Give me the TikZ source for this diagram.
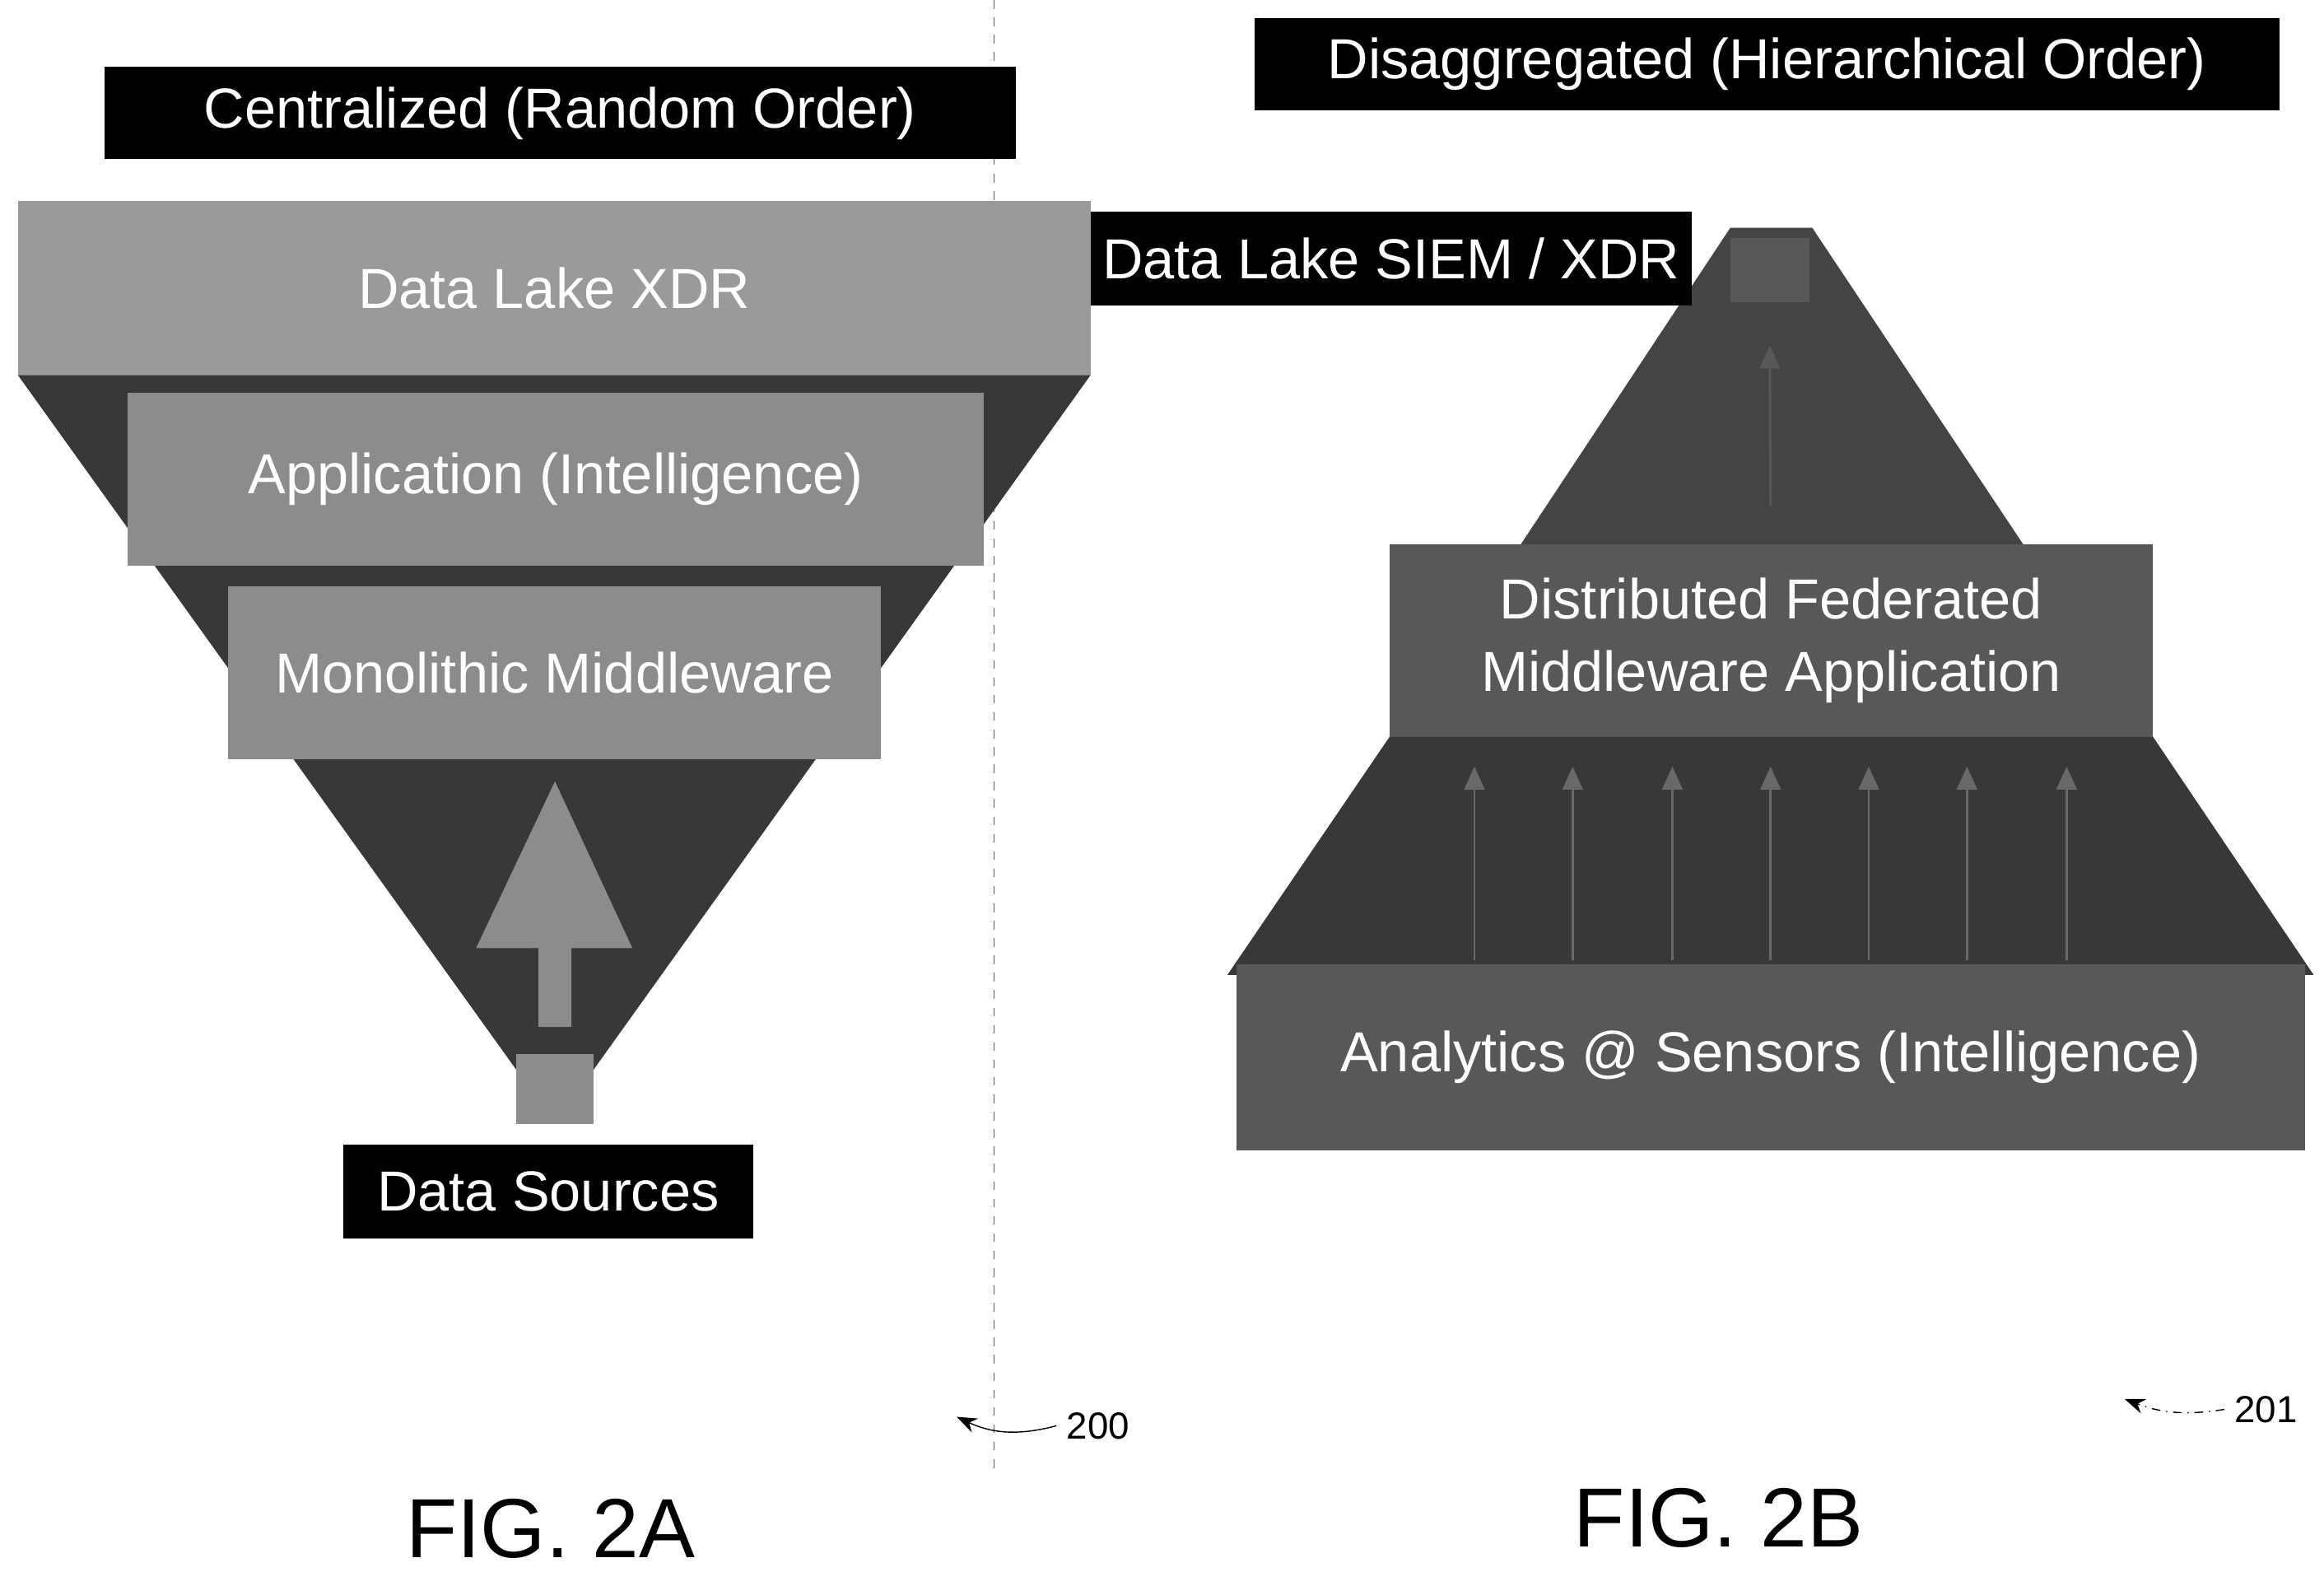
\documentclass[tikz,border=0pt]{standalone}
\usepackage{fontspec}
\setmainfont{Liberation Sans}
\usetikzlibrary{arrows.meta}
\definecolor{lightbox}{HTML}{9A9A9A}
\definecolor{midbox}{HTML}{8C8C8C}
\definecolor{darkfill}{HTML}{383838}
\definecolor{topfill}{HTML}{444444}
\definecolor{rbox}{HTML}{585858}
\tikzset{
	label/.style={fill=black, text=white, font=\fontsize{19.5}{23}\selectfont, inner sep=0pt},
	layer/.style={draw=none, text=white, font=\fontsize{19.5}{23}\selectfont, align=center},
	fig/.style={font=\fontsize{29}{32}\selectfont},
	num/.style={font=\fontsize{13}{15}\selectfont}
}
\begin{document}
\begin{tikzpicture}[x=0.01807cm, y=-0.01807cm]
	\useasboundingbox (0,0) rectangle (1562,1056);

	% divider
	\draw[dashed, gray!70!black] (668,0) -- (668,990);

	% titles
	\node[label, minimum width=613*0.01807cm, minimum height=62*0.01807cm] (tA) at (376.5,76) {Centralized (Random Order)};
	\node[label, minimum width=689*0.01807cm, minimum height=62*0.01807cm] (tB) at (1187.5,43) {Disaggregated (Hierarchical Order)};

	% left funnel
	\fill[darkfill] (12,252) -- (733,252) -- (373,755) -- cycle;
	\node[layer, fill=lightbox, minimum width=721*0.01807cm, minimum height=117*0.01807cm] (lake) at (372.5,193.5) {Data Lake XDR};
	\node[layer, fill=midbox, minimum width=575*0.01807cm, minimum height=116*0.01807cm] (app) at (373.5,322) {Application (Intelligence)};
	\node[layer, fill=midbox, minimum width=439*0.01807cm, minimum height=116*0.01807cm] (mono) at (372.5,452) {Monolithic Middleware};
	\fill[midbox] (320,637) -- (373,525) -- (425,637) -- (384,637) -- (384,690) -- (362,690) -- (362,637) -- cycle;
	\node[fill=midbox, minimum width=52*0.01807cm, minimum height=47*0.01807cm, inner sep=0pt] (src) at (373,731.5) {};
	\node[label, minimum width=275*0.01807cm, minimum height=63*0.01807cm] (sources) at (368.5,800.5) {Data Sources};

	% right pyramid
	\fill[topfill] (1163,153) -- (1218,153) -- (1360,366) -- (1022,366) -- cycle;
	\node[fill=rbox, minimum width=53*0.01807cm, minimum height=43*0.01807cm, inner sep=0pt] (top) at (1189.5,181.5) {};
	\coordinate (t0) at (1190,340);
	\draw[-{Triangle[length=8pt,width=7pt]}, rbox, thick] (t0) -- (top.south |- 0,232);
	\node[label, minimum width=404*0.01807cm, minimum height=63*0.01807cm] (siem) at (935,173.5) {Data Lake SIEM / XDR};
	\fill[darkfill] (934,495) -- (1447,495) -- (1555,655) -- (825,655) -- cycle;
	\node[layer, fill=rbox, minimum width=513*0.01807cm, minimum height=129*0.01807cm] (dist) at (1190.5,430.5) {Distributed Federated\\[2pt]Middleware Application};
	\node[layer, fill=rbox, minimum width=718*0.01807cm, minimum height=125*0.01807cm] (ana) at (1190,710.5) {Analytics @ Sensors (Intelligence)};
	\foreach \x in {991,1057,1124,1190,1256,1322,1389}
	{
		\draw[-{Triangle[length=8pt,width=7pt]}, rbox!90, thick] (\x,645) -- (\x,515);
	};

	% reference numerals
	\node[num, anchor=west] (n200) at (710,958) {200};
	\draw[-{Stealth[length=7pt]}] (n200.west) to[bend left=20] (643,952);
	\node[num, anchor=west] (n201) at (1495,947) {201};
	\draw[dash dot, -{Stealth[length=7pt]}] (n201.west) to[bend left=15] (1428,940);

	\node[fig] (fa) at (370,1027) {FIG. 2A};
	\node[fig] (fb) at (1155,1020) {FIG. 2B};
\end{tikzpicture}
\end{document}
